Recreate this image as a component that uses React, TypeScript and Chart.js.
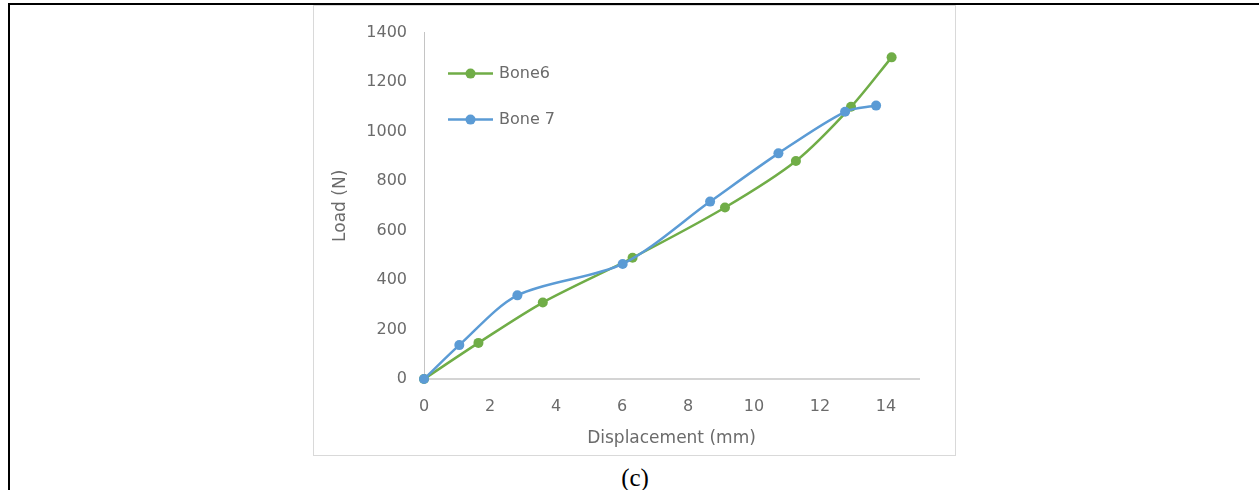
import React, { useEffect, useRef } from "react";
import { Chart, registerables } from "chart.js";

Chart.register(...registerables);

// ---- data ----
const seriesNames = ["Bone6", "Bone 7"];
const seriesColors = ["#70AD47", "#5B9BD5"];
const bone6X = [0, 1.65, 3.6, 6.32, 9.12, 11.27, 12.94, 14.17];
const bone6Y = [0, 146, 309, 490, 693, 881, 1100, 1300];
const bone7X = [0, 1.07, 2.83, 6.02, 8.67, 10.74, 12.76, 13.7];
const bone7Y = [0, 137, 338, 465, 717, 912, 1080, 1105];
const xTickValues = [0, 2, 4, 6, 8, 10, 12, 14];
const yTickValues = [0, 200, 400, 600, 800, 1000, 1200, 1400];
const xTitle = "Displacement (mm)";
const yTitle = "Load (N)";
const caption = "(c)";

const FONT = "'DejaVu Sans', sans-serif";
const TEXT = "#6b6b6b";

const legendPlugin = {
  id: "insideLegend",
  afterDatasetsDraw(chart: any) {
    const ctx = chart.ctx;
    const a = chart.chartArea;
    ctx.save();
    seriesNames.forEach((name, i) => {
      const y = a.top + 41 + i * 46;
      const x0 = a.left + 24;
      const x1 = a.left + 69;
      ctx.strokeStyle = seriesColors[i];
      ctx.lineWidth = 2.5;
      ctx.beginPath();
      ctx.moveTo(x0, y);
      ctx.lineTo(x1, y);
      ctx.stroke();
      ctx.fillStyle = seriesColors[i];
      ctx.beginPath();
      ctx.arc((x0 + x1) / 2, y, 5, 0, Math.PI * 2);
      ctx.fill();
      ctx.fillStyle = TEXT;
      ctx.font = `16px ${FONT}`;
      ctx.textAlign = "left";
      ctx.textBaseline = "middle";
      ctx.fillText(name, x1 + 6, y);
    });
    ctx.restore();
  },
};

function LoadChart() {
  const ref = useRef<HTMLCanvasElement | null>(null);
  useEffect(() => {
    if (!ref.current) return;
    const mk = (xs: number[], ys: number[]) => xs.map((x, i) => ({ x, y: ys[i] }));
    const chart = new Chart(ref.current, {
      type: "line",
      data: {
        datasets: [
          {
            label: seriesNames[0],
            data: mk(bone6X, bone6Y),
            borderColor: seriesColors[0],
            backgroundColor: seriesColors[0],
            borderWidth: 2.5,
            pointRadius: 5,
            pointBorderWidth: 0,
            tension: 0.3,
            clip: false as any,
            order: 1,
          },
          {
            label: seriesNames[1],
            data: mk(bone7X, bone7Y),
            borderColor: seriesColors[1],
            backgroundColor: seriesColors[1],
            borderWidth: 2.5,
            pointRadius: 5,
            pointBorderWidth: 0,
            tension: 0.3,
            clip: false as any,
            order: 0,
          },
        ],
      },
      options: {
        animation: false,
        responsive: false,
        devicePixelRatio: 1,
        layout: { padding: { top: 25, right: 36, left: 0, bottom: 0 } },
        plugins: { legend: { display: false }, tooltip: { enabled: false } },
        scales: {
          x: {
            type: "linear",
            min: 0,
            max: 15,
            afterBuildTicks: (s: any) => {
              s.ticks = xTickValues.map((v) => ({ value: v }));
            },
            afterFit: (s: any) => {
              s.height = 76;
            },
            grid: { display: true, drawOnChartArea: false, drawTicks: false },
            border: { display: true, color: "#d4d4d4", width: 2 },
            ticks: {
              color: TEXT,
              font: { family: FONT, size: 16 },
              padding: 18,
              callback: (v: any) => String(v),
            },
            title: {
              display: true,
              text: xTitle,
              color: TEXT,
              font: { family: FONT, size: 17 },
              padding: { top: 0, bottom: 6 },
            },
          },
          y: {
            type: "linear",
            min: 0,
            max: 1400,
            afterBuildTicks: (s: any) => {
              s.ticks = yTickValues.map((v) => ({ value: v }));
            },
            afterFit: (s: any) => {
              s.width = 110;
            },
            grid: { display: true, drawOnChartArea: false, drawTicks: false },
            border: { display: true, color: "#c4c4c4", width: 1 },
            ticks: {
              color: TEXT,
              font: { family: FONT, size: 16 },
              padding: 17,
              callback: (v: any) => String(v),
            },
            title: {
              display: true,
              text: yTitle,
              color: TEXT,
              font: { family: FONT, size: 17 },
              padding: { top: 16, bottom: 0 },
            },
          },
        },
      },
      plugins: [legendPlugin],
    } as any);
    return () => chart.destroy();
  }, []);
  return <canvas ref={ref} width={641} height={449} style={{ display: "block" }} />;
}

export default function App() {
  return (
    <div style={{ position: "absolute", left: 0, top: 0, width: 1259, height: 490, background: "#fff", overflow: "hidden" }}>
      <div style={{ position: "absolute", left: 8, top: 3, width: 1251, height: 2, background: "#000" }} />
      <div style={{ position: "absolute", left: 8, top: 3, width: 2, height: 487, background: "#000" }} />
      <div
        style={{
          position: "absolute",
          left: 313,
          top: 5,
          width: 641,
          height: 449,
          border: "1px solid #d9d9d9",
          background: "#fff",
        }}
      >
        <LoadChart />
      </div>
      <div
        style={{
          position: "absolute",
          left: 635,
          top: 465,
          transform: "translateX(-50%)",
          fontFamily: "'Liberation Serif', 'Times New Roman', serif",
          fontSize: 25,
          lineHeight: 1,
          color: "#000",
          whiteSpace: "nowrap",
        }}
      >
        {caption}
      </div>
    </div>
  );
}
